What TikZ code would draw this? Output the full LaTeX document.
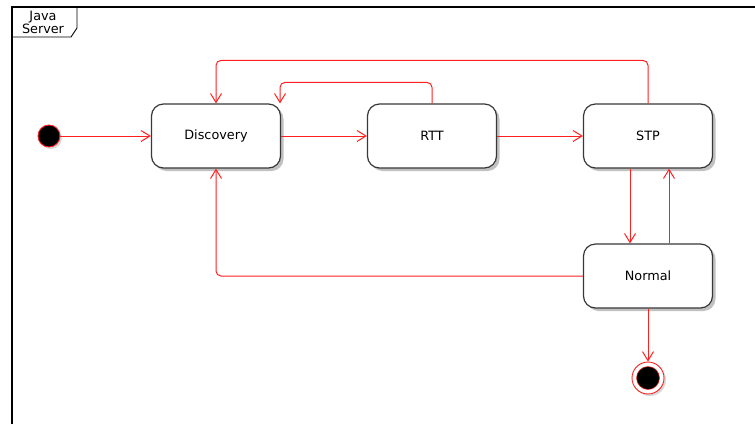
\documentclass[tikz,border=0pt]{standalone}
\usepackage{fontspec}
\setmainfont{DejaVu Sans}
\usetikzlibrary{arrows.meta,shadows}
\definecolor{edgered}{HTML}{FF2020}
\definecolor{boxline}{HTML}{383838}
\tikzset{
  state/.style={draw=boxline, line width=1.2pt, fill=white, rounded corners=12pt,
    minimum width=129pt, minimum height=64pt, inner sep=0pt,
    font=\fontsize{12.8}{14}\selectfont,
    drop shadow={shadow xshift=3pt, shadow yshift=-3pt, fill=black!30, opacity=0.8}},
  conn/.style={draw=edgered, line width=1pt, rounded corners=5pt,
    -{Straight Barb[length=9pt,width=11pt,line width=1pt]}},
  startdot/.style={circle, fill=black, draw=edgered, line width=0.9pt,
    minimum size=22pt, inner sep=0pt,
    drop shadow={shadow xshift=2pt, shadow yshift=-2pt, fill=black!30}},
  endring/.style={circle, fill=white, draw=edgered, line width=0.9pt,
    minimum size=32pt, inner sep=0pt,
    drop shadow={shadow xshift=2pt, shadow yshift=-2pt, fill=black!30}},
  enddot/.style={circle, fill=black, draw=edgered, line width=0.5pt,
    minimum size=23pt, inner sep=0pt},
  framelabel/.style={font=\fontsize{12.8}{13}\selectfont, align=center, inner sep=0pt}
}
\begin{document}
\begin{tikzpicture}[x=1pt,y=-1pt]
\useasboundingbox (0,0) rectangle (755,424);
% frame
\draw[line width=1.4pt, black] (12,424) -- (12,7) -- (755,7);
\draw[line width=0.9pt, black] (12,37) -- (71,37) -- (77,28) -- (77,7);
\node[framelabel] (flabel) at (43,22.5) {Java\\Server};
% states
\node[startdot] (start) at (49,136) {};
\node[state] (disc) at (216,136) {Discovery};
\node[state] (rtt) at (432,136) {RTT};
\node[state] (stp) at (648,136) {STP};
\node[state] (norm) at (648,276) {Normal};
\node[endring] (endo) at (648,378) {};
\node[enddot] (endi) at (648,378) {};
% connectors
\draw[conn] (start) -- (disc);
\draw[conn] (disc) -- (rtt);
\draw[conn] (rtt) -- (stp);
\draw[conn] (rtt.north) -- ++(0,-21) -| ([xshift=64pt]disc.north);
\draw[conn] (stp.north) -- ++(0,-43) -| (disc.north);
\draw[conn] ([xshift=-18pt]stp.south) -- ([xshift=-18pt]norm.north);
\draw[conn] ([xshift=21pt]norm.north) -- ([xshift=21pt]stp.south);
\draw[conn] (norm.west) -| (disc.south);
\draw[conn] (norm.south) -- (endo.north);
\end{tikzpicture}
\end{document}
